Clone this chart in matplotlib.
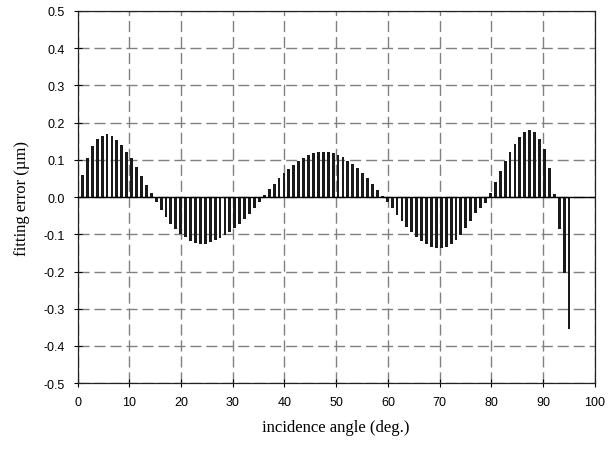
import numpy as np
import matplotlib
matplotlib.use("Agg")
import matplotlib.pyplot as plt

# fitting error sampled every 0.95 deg of incidence angle
step = 0.95
n_samples = 100
fit_error = [
    0.060, 0.104, 0.136, 0.156, 0.165, 0.169, 0.164, 0.154, 0.140, 0.122,
    0.104, 0.080, 0.057, 0.033, 0.011, -0.013, -0.034, -0.054, -0.071, -0.086,
    -0.098, -0.107, -0.117, -0.123, -0.125, -0.125, -0.121, -0.116, -0.110, -0.103,
    -0.094, -0.083, -0.071, -0.058, -0.045, -0.030, -0.013, 0.006, 0.021, 0.036,
    0.051, 0.064, 0.076, 0.087, 0.098, 0.106, 0.113, 0.118, 0.121, 0.122,
    0.121, 0.118, 0.113, 0.107, 0.098, 0.088, 0.077, 0.064, 0.051, 0.036,
    0.020, 0.004, -0.014, -0.030, -0.047, -0.065, -0.081, -0.094, -0.107, -0.117,
    -0.126, -0.133, -0.138, -0.138, -0.134, -0.126, -0.114, -0.101, -0.083, -0.065,
    -0.043, -0.028, -0.016, 0.012, 0.040, 0.069, 0.096, 0.121, 0.143, 0.162,
    0.175, 0.179, 0.175, 0.157, 0.128, 0.079, 0.009, -0.085, -0.204, -0.354,
]
angles = np.arange(1, n_samples + 1) * step

x_ticks = list(range(0, 101, 10))
y_ticks = [-0.5, -0.4, -0.3, -0.2, -0.1, 0.0, 0.1, 0.2, 0.3, 0.4, 0.5]

fig = plt.figure(figsize=(6.08, 4.52), dpi=100)
ax = fig.add_axes([0.1275, 0.150, 0.851, 0.8235])

ax.bar(angles, fit_error, width=0.55, color="#1a1a1a", zorder=3)
ax.axhline(0, color="black", lw=1.0, zorder=4)

ax.set_xlim(0, 100)
ax.set_ylim(-0.5, 0.5)
ax.set_xticks(x_ticks)
ax.set_yticks(y_ticks)
ax.set_yticklabels(["%.1f" % v for v in y_ticks])

ax.grid(True, color="#808080", lw=1.0, linestyle=(0, (8, 3.5)), zorder=1)

for side in ["left", "bottom", "right", "top"]:
    ax.spines[side].set_color("#222222")
    ax.spines[side].set_linewidth(0.9)

ax.tick_params(direction="inout", length=6, width=0.8, colors="black",
               labelsize=9, pad=6)
for lab in ax.get_xticklabels() + ax.get_yticklabels():
    lab.set_fontfamily("Liberation Sans")

ax.set_xlabel("incidence angle (deg.)", family="Liberation Serif",
              fontsize=12, labelpad=8)
ax.set_ylabel("fitting error (µm)", family="Liberation Serif",
              fontsize=12, labelpad=10)

fig.savefig("out.png", dpi=100)
